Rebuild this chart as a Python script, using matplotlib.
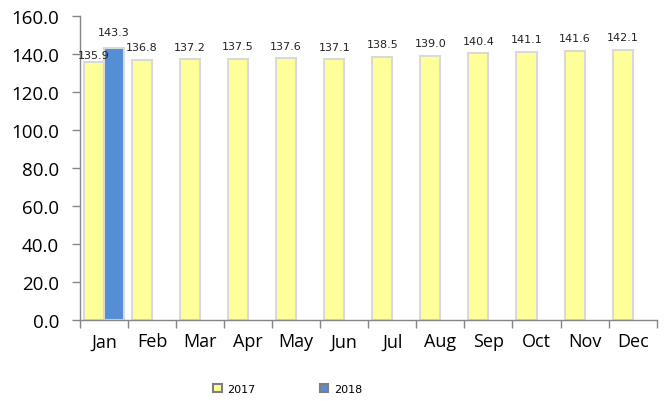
import matplotlib
matplotlib.use("Agg")
import matplotlib.pyplot as plt
import numpy as np

months = ["Jan", "Feb", "Mar", "Apr", "May", "Jun", "Jul", "Aug", "Sep", "Oct", "Nov", "Dec"]
v2017 = [135.9, 136.8, 137.2, 137.5, 137.6, 137.1, 138.5, 139.0, 140.4, 141.1, 141.6, 142.1]
v2018 = [143.3]
yticks = [0, 20, 40, 60, 80, 100, 120, 140, 160]

fig = plt.figure(figsize=(6.66, 4.02), dpi=100)
ax = fig.add_axes([0.12, 0.2015, 0.866, 0.7565])

x = np.arange(len(months))
w = 0.417
b1 = ax.bar(x - w / 2, v2017, width=w, color="#FFFF99", edgecolor="#D9D9D9", linewidth=1.5, label="2017")
x18 = x[:len(v2018)]
b2 = ax.bar(x18 + w / 2, v2018, width=w, color="#558ED5", edgecolor="#D9D9D9", linewidth=1.5, label="2018")

for i, (xi, v) in enumerate(zip(x, v2017)):
    off = 1.0 if i == 0 else 4.0
    ax.text(xi - w / 2, v + off, f"{v:.1f}", ha="center", va="bottom", fontsize=8, color="#222222")
for xi, v in zip(x18, v2018):
    ax.text(xi + w / 2, v + 5.5, f"{v:.1f}", ha="center", va="bottom", fontsize=8, color="#222222")

ax.set_xlim(-0.5, len(months) - 0.5)
ax.set_ylim(0, 160)
ax.set_yticks(yticks)
ax.set_yticklabels([f"{t:.1f}" for t in yticks], fontsize=13.5, fontfamily="Open Sans")
ax.set_xticks(x)
ax.set_xticklabels(months, fontsize=13, fontfamily="Open Sans")
ax.tick_params(axis="x", length=0, pad=9)
ax.set_xticks(np.arange(-0.5, len(months), 1.0), minor=True)
ax.tick_params(axis="x", which="minor", length=6, color="#868686", width=1)
ax.tick_params(axis="y", length=6, color="#868686", width=1, pad=9)

for s in ["top", "right"]:
    ax.spines[s].set_visible(False)
for s in ["left", "bottom"]:
    ax.spines[s].set_color("#868686")
    ax.spines[s].set_linewidth(1)

leg = fig.legend(handles=[b1, b2], labels=["2017", "2018"], loc="center", bbox_to_anchor=(0.432, 0.03),
                 ncol=2, frameon=False, fontsize=8, handlelength=0.75, handleheight=0.75,
                 columnspacing=5.8, handletextpad=0.5)
for h in leg.legend_handles:
    h.set_edgecolor("#7F7F7F")
    h.set_linewidth(1.5)

fig.savefig("out.png", dpi=100)
